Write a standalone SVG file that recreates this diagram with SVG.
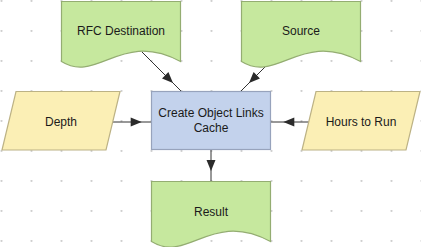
<svg xmlns="http://www.w3.org/2000/svg" width="421" height="247" viewBox="0 0 421 247">
<style>
.doc{fill:#c6e89e;stroke:#94ad72;stroke-width:1.2}
.para{fill:#fbefb5;stroke:#bcb285;stroke-width:1.2}
.proc{fill:#c3d2ec;stroke:#97a3bc;stroke-width:1.2}
.lbl{font-family:"Liberation Sans",Arial,sans-serif;font-size:12px;fill:#1a1a1a;text-anchor:middle}
.edge{stroke:#333;stroke-width:1;fill:none}
.ah{fill:#2b2b2b}
</style>
<defs>
<pattern id="grid" width="30" height="30" patternUnits="userSpaceOnUse">
<circle cx="1.5" cy="1" r="1.1" fill="#cfcfcf"/>
</pattern>
<path id="ah" d="M0,0 L-11,-4.5 L-11,4.5 Z"/>
</defs>
<rect width="421" height="247" fill="#fff"/>
<rect width="421" height="247" fill="url(#grid)"/>

<g id="connectors">
<line class="edge" x1="142" y1="52" x2="181.5" y2="91.5"/>
<use href="#ah" class="ah" transform="translate(173,83) rotate(45)"/>
<line class="edge" x1="268" y1="64" x2="241" y2="91"/>
<use href="#ah" class="ah" transform="translate(249,83) rotate(135)"/>
<line class="edge" x1="113" y1="122" x2="151.5" y2="122"/>
<use href="#ah" class="ah" transform="translate(141.7,122)"/>
<line class="edge" x1="309" y1="122" x2="270.5" y2="122"/>
<use href="#ah" class="ah" transform="translate(283.3,122) rotate(180)"/>
<line class="edge" x1="211" y1="149.5" x2="211" y2="181.5"/>
<use href="#ah" class="ah" transform="translate(211,171) rotate(90)"/>
</g>

<g id="rfc-destination">
<path class="doc" d="M61.5,1.5 H180.5 V61.5 C121,29.5 97.2,84 61.5,61.5 Z"/>
<text class="lbl" x="121" y="35">RFC Destination</text>
</g>
<g id="source">
<path class="doc" d="M241.5,1.5 H360.5 V61.5 C301,29.5 277.2,84 241.5,61.5 Z"/>
<text class="lbl" x="301" y="35">Source</text>
</g>
<g id="depth">
<path class="para" d="M16,91.5 H120 L106,150 H2 Z"/>
<text class="lbl" x="61" y="126">Depth</text>
</g>
<g id="create-object-links-cache">
<rect class="proc" x="151.5" y="91.5" width="119" height="58"/>
<text class="lbl" x="211" y="117">Create Object Links</text>
<text class="lbl" x="211" y="132">Cache</text>
</g>
<g id="hours-to-run">
<path class="para" d="M316,91.5 H420 L406,150 H302 Z"/>
<text class="lbl" x="361" y="126">Hours to Run</text>
</g>
<g id="result">
<path class="doc" d="M151.5,181.5 H270.5 V241.5 C211,209.5 187.2,264 151.5,241.5 Z"/>
<text class="lbl" x="211" y="216">Result</text>
</g>
</svg>
